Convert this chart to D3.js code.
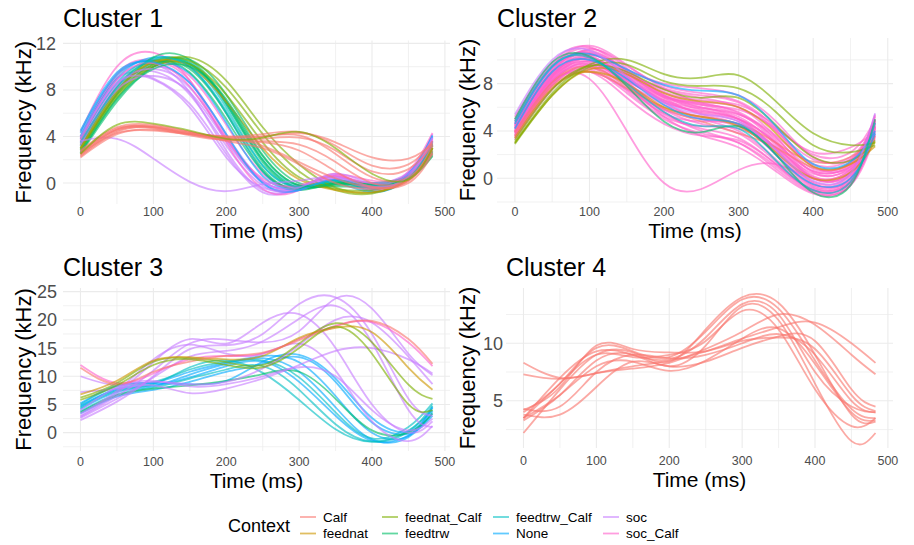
<!DOCTYPE html>
<html>
<head>
<meta charset="utf-8">
<script src="https://cdn.jsdelivr.net/npm/d3@7"></script>
<style>
  body { margin: 0; background: #fff; }
  svg { display: block; font-family: "Liberation Sans", Arial, sans-serif; }
</style>
</head>
<body>
<svg id="chart" width="914" height="545"></svg>
<script>
// Sample times (ms) shared by every contour
const times = [0, 50, 100, 150, 200, 250, 300, 350, 400, 450, 483];

const contexts = ["Calf", "feednat", "feednat_Calf", "feedtrw", "feedtrw_Calf", "None", "soc", "soc_Calf"];
const palette = ["#F8766D", "#CD9600", "#7CAE00", "#00BE67", "#00BFC4", "#00A9FF", "#C77CFF", "#FF61CC"];

// Tick labels per cluster (kHz)
const cluster1Ticks = [0, 4, 8, 12];
const cluster2Ticks = [0, 4, 8];
const cluster3Ticks = [0, 5, 10, 15, 20, 25];
const cluster4Ticks = [5, 10];
const timeTicks = [0, 100, 200, 300, 400, 500];

// Cluster 1 contours: [context, frequency at each time]
const cluster1 = [
  ["soc",          [3.8, 8.8, 10.2, 7.8, 2.8, -0.6, -0.5, 0.3, -0.4, 0.8, 4.2]],
  ["soc",          [3.5, 8.5, 9.6, 7.6, 3.2, -0.2, -0.6, 0.5, -0.2, 0.7, 3.6]],
  ["soc",          [4.0, 9.0, 9.0, 6.8, 2.5, -0.8, -0.4, 0.6, -0.3, 0.9, 4.0]],
  ["soc_Calf",     [4.4, 10.0, 11.2, 8.8, 3.5, -0.5, -0.6, 0.8, -0.5, 1.0, 4.3]],
  ["soc_Calf",     [3.6, 9.2, 10.5, 8.8, 4.0, 0.2, -0.5, 0.3, -0.6, 0.6, 3.5]],
  ["soc",          [3.2, 8.2, 10.0, 8.6, 4.2, 0.2, -0.4, 0.6, -0.2, 0.7, 3.3]],
  ["soc_Calf",     [3.9, 9.4, 10.6, 9.2, 5.0, 0.8, -0.3, 0.7, 0.2, 0.8, 3.8]],
  ["None",         [4.3, 9.3, 10.5, 9.4, 5.2, 0.6, -0.5, 0.0, -0.8, 0.5, 4.0]],
  ["None",         [4.0, 9.0, 10.8, 10.0, 6.0, 1.0, -0.6, 0.2, -0.7, 0.5, 3.6]],
  ["feedtrw_Calf", [3.8, 8.6, 10.7, 10.2, 6.5, 1.5, -0.4, 0.0, -0.3, 0.6, 3.5]],
  ["feedtrw_Calf", [3.2, 8.0, 10.4, 10.4, 6.8, 2.0, -0.2, 0.2, 0.0, 0.7, 3.2]],
  ["feedtrw",      [2.8, 7.6, 10.2, 10.3, 6.8, 1.8, -0.4, 0.0, -0.2, 0.5, 2.5]],
  ["feedtrw",      [2.6, 7.3, 10.0, 10.2, 7.0, 2.3, -0.2, -0.2, -0.1, 0.6, 2.6]],
  ["feedtrw",      [3.0, 7.8, 10.3, 9.8, 6.0, 1.2, -0.6, 0.0, -0.2, 0.4, 2.8]],
  ["feedtrw",      [2.5, 7.0, 10.0, 10.6, 7.6, 2.8, 0.0, -0.3, -0.3, 0.4, 2.4]],
  ["feedtrw",      [2.9, 7.7, 10.8, 10.6, 7.0, 2.0, -0.4, -0.1, 0.0, 0.6, 2.7]],
  ["feedtrw",      [3.4, 8.3, 10.5, 9.5, 5.5, 1.0, -0.5, 0.1, -0.1, 0.6, 3.0]],
  ["feednat_Calf", [3.0, 7.6, 10.2, 10.8, 8.8, 4.8, 1.6, -0.4, -0.8, 0.4, 3.2]],
  ["feednat_Calf", [3.3, 8.0, 10.5, 10.5, 8.2, 4.2, 1.0, -0.6, -0.9, 0.5, 3.4]],
  ["feednat_Calf", [2.8, 7.4, 10.0, 10.2, 7.6, 3.5, 0.5, -0.5, -0.6, 0.5, 3.0]],
  ["feednat",      [3.0, 7.8, 10.4, 10.0, 7.0, 3.0, 0.3, -0.6, -0.8, 0.3, 3.0]],
  ["soc",          [3.4, 8.4, 9.8, 8.2, 3.8, 0.0, -0.6, 0.4, 0.0, 0.9, 3.5]],
  ["soc_Calf",     [3.7, 8.9, 10.3, 8.3, 3.8, 0.4, -0.2, 0.6, -0.1, 0.7, 3.7]],
  ["soc",          [3.3, 8.0, 9.2, 7.8, 3.6, 0.1, -0.3, 0.4, -0.4, 0.5, 3.3]],
  ["None",         [4.5, 9.5, 10.4, 8.6, 4.2, 0.0, -0.6, 0.3, -0.5, 0.8, 4.1]],
  ["feedtrw_Calf", [3.5, 8.2, 10.6, 10.0, 6.2, 1.5, -0.3, 0.2, -0.2, 0.5, 3.3]],
  ["feedtrw",      [2.6, 7.2, 9.8, 10.0, 7.2, 2.4, -0.2, -0.1, -0.1, 0.4, 2.3]],
  ["soc",          [3.9, 8.6, 8.9, 6.5, 2.2, -0.4, -0.4, 0.8, 0.0, 0.8, 3.9]],
  ["soc",          [3.6, 3.8, 2.1, 0.1, -0.7, -0.1, 0.2, 0.5, -0.3, 0.6, 3.9]],
  ["Calf",         [2.3, 4.4, 4.8, 4.3, 4.0, 4.0, 4.3, 3.5, 2.2, 2.1, 3.4]],
  ["Calf",         [2.5, 4.6, 4.9, 4.4, 3.9, 4.0, 4.1, 2.5, 0.5, 0.5, 3.0]],
  ["Calf",         [2.6, 4.7, 4.8, 4.2, 3.7, 3.5, 2.8, 1.0, -0.3, 0.2, 2.8]],
  ["Calf",         [2.2, 4.2, 4.6, 4.2, 3.8, 3.6, 3.3, 1.8, 0.0, 0.3, 2.6]],
  ["Calf",         [2.8, 4.8, 5.0, 4.4, 3.6, 3.0, 1.6, 0.0, -0.5, 0.2, 3.2]],
  ["Calf",         [2.4, 4.5, 4.7, 4.1, 3.7, 3.8, 3.9, 2.8, 1.0, 1.2, 3.3]],
  ["Calf",         [2.5, 4.3, 4.5, 4.2, 3.9, 3.2, 1.8, 0.4, -0.4, 0.0, 2.5]],
  ["Calf",         [2.7, 4.6, 4.8, 4.3, 4.0, 4.2, 4.4, 3.2, 1.5, 1.6, 3.6]],
  ["feednat_Calf", [2.5, 5.0, 5.1, 4.5, 3.8, 3.9, 4.4, 3.0, 0.8, 0.3, 3.0]]
];

// Cluster 2 contours
const cluster2 = [
  ["soc_Calf", [4.5, 9.0, 10.8, 9.0, 7.5, 6.8, 6.0, 3.5, 0.5, 1.0, 5.0]],
  ["soc_Calf", [4.2, 8.6, 10.5, 8.8, 7.2, 6.3, 5.6, 3.2, 0.2, 0.8, 4.8]],
  ["soc_Calf", [4.8, 9.4, 11.0, 9.3, 7.0, 5.8, 5.0, 2.5, -0.3, 0.4, 5.3]],
  ["soc_Calf", [3.8, 8.2, 10.2, 8.5, 6.6, 5.5, 4.8, 2.2, -0.5, 0.2, 4.5]],
  ["soc_Calf", [4.0, 8.5, 9.8, 8.0, 6.2, 5.2, 4.5, 2.0, -0.6, 0.0, 4.2]],
  ["soc_Calf", [3.5, 7.8, 9.5, 8.2, 6.8, 6.0, 5.2, 2.8, 0.0, 0.5, 4.0]],
  ["soc_Calf", [4.6, 9.2, 10.6, 8.6, 6.4, 5.0, 4.0, 1.6, -0.8, -0.2, 4.6]],
  ["soc_Calf", [4.4, 8.8, 10.0, 8.0, 5.8, 4.6, 3.8, 1.4, -1.0, -0.3, 4.4]],
  ["soc_Calf", [3.9, 8.4, 9.6, 7.6, 5.4, 4.2, 3.4, 1.2, -1.0, -0.4, 3.8]],
  ["soc_Calf", [5.0, 9.6, 10.4, 8.2, 5.6, 4.0, 3.0, 0.8, -1.2, -0.5, 4.9]],
  ["soc_Calf", [3.6, 8.0, 9.2, 7.2, 5.0, 3.8, 3.0, 1.0, -1.1, -0.6, 3.6]],
  ["soc_Calf", [4.3, 8.9, 10.2, 8.4, 6.5, 5.6, 5.0, 3.0, 0.6, 1.2, 4.7]],
  ["soc_Calf", [4.1, 8.6, 10.9, 9.5, 7.8, 7.2, 6.5, 4.2, 1.0, 1.4, 4.9]],
  ["soc_Calf", [3.7, 8.1, 9.9, 8.7, 7.0, 6.2, 5.4, 3.4, 0.8, 1.3, 4.1]],
  ["soc_Calf", [4.9, 9.5, 11.2, 9.6, 7.6, 6.4, 5.5, 3.0, 0.0, 0.6, 5.4]],
  ["soc_Calf", [4.0, 8.3, 9.4, 7.4, 5.2, 4.4, 4.2, 2.4, 0.0, 0.5, 3.9]],
  ["soc_Calf", [3.4, 7.6, 9.0, 7.5, 5.8, 5.0, 4.4, 2.6, 0.4, 0.8, 3.5]],
  ["soc_Calf", [4.7, 9.3, 10.3, 8.0, 5.2, 3.6, 2.6, 0.6, -1.3, -0.6, 4.4]],
  ["soc_Calf", [4.2, 8.7, 10.1, 8.6, 6.9, 6.4, 6.0, 4.0, 1.6, 1.8, 4.6]],
  ["soc_Calf", [3.9, 8.2, 9.7, 8.3, 6.6, 5.9, 5.4, 3.6, 1.2, 1.6, 4.3]],
  ["soc_Calf", [4.6, 9.1, 10.7, 9.1, 7.3, 6.6, 6.2, 4.4, 2.0, 2.2, 4.9]],
  ["soc_Calf", [3.3, 7.5, 9.3, 8.0, 6.4, 5.7, 5.0, 3.0, 0.6, 1.0, 3.3]],
  ["soc_Calf", [4.4, 8.8, 10.0, 7.8, 5.5, 4.8, 4.6, 2.6, 0.1, 0.3, 4.2]],
  ["soc_Calf", [5.2, 9.8, 11.1, 9.0, 6.8, 5.4, 4.5, 2.0, -0.7, 0.0, 5.2]],
  ["soc_Calf", [3.8, 8.0, 9.0, 6.8, 4.6, 3.6, 3.2, 1.2, -0.9, -0.3, 3.7]],
  ["soc_Calf", [4.3, 8.6, 9.9, 8.8, 7.6, 7.0, 6.4, 4.0, 1.0, 1.0, 4.4]],
  ["soc_Calf", [4.0, 8.4, 10.4, 9.2, 8.0, 7.6, 7.0, 4.8, 1.8, 1.6, 4.3]],
  ["soc_Calf", [3.6, 7.9, 9.6, 8.4, 6.9, 6.2, 5.8, 4.2, 2.2, 2.6, 3.9]],
  ["soc_Calf", [4.5, 9.0, 10.6, 8.9, 7.0, 6.0, 5.0, 2.4, -0.4, 0.0, 4.8]],
  ["soc_Calf", [4.2, 8.2, 8.4, 4.0, -0.4, -0.9, 0.7, 1.2, 0.0, 0.7, 4.3]],
  ["Calf",     [3.6, 7.8, 9.0, 7.6, 6.0, 5.2, 4.6, 3.0, 1.4, 1.8, 3.4]],
  ["Calf",     [3.9, 8.1, 9.4, 7.8, 5.9, 4.8, 3.8, 2.6, 0.9, 1.2, 3.6]],
  ["feednat",  [3.0, 7.0, 9.2, 8.8, 7.2, 6.5, 6.0, 3.8, 1.0, 1.2, 2.7]],
  ["feednat",  [3.4, 7.6, 9.0, 8.0, 6.0, 5.2, 4.4, 2.2, 0.0, 0.5, 3.1]],
  ["feednat_Calf", [3.0, 7.2, 9.6, 10.0, 8.8, 8.5, 8.7, 6.5, 3.8, 2.8, 3.0]],
  ["feednat_Calf", [2.9, 7.0, 9.4, 9.6, 8.2, 7.8, 7.6, 5.6, 2.8, 2.2, 2.8]],
  ["feednat_Calf", [3.2, 7.5, 9.5, 9.0, 7.5, 6.8, 6.8, 4.5, 1.8, 1.5, 3.2]],
  ["None",     [4.6, 9.4, 10.5, 9.2, 7.9, 7.4, 7.0, 4.4, 1.2, 1.4, 4.0]],
  ["None",     [4.2, 9.0, 10.0, 8.4, 6.2, 5.0, 4.6, 2.0, -0.5, 0.0, 3.8]],
  ["feedtrw",  [5.0, 9.8, 10.3, 7.8, 4.8, 3.9, 4.4, 2.0, -1.2, -0.6, 5.0]],
  ["feedtrw_Calf", [4.8, 9.5, 10.2, 8.0, 5.6, 4.4, 4.2, 1.5, -1.0, -0.3, 4.7]],
  ["soc",      [5.4, 10.0, 10.8, 8.6, 6.4, 5.4, 4.8, 2.4, -0.2, 0.4, 5.5]]
];

// Cluster 3 contours
const cluster3 = [
  ["None",         [4.8, 7.6, 8.4, 9.8, 11.8, 12.6, 9.0, 3.0, -1.4, -0.5, 3.4]],
  ["None",         [4.2, 7.2, 8.2, 10.3, 12.2, 13.2, 10.8, 4.5, -1.2, -0.8, 3.8]],
  ["None",         [4.6, 7.8, 8.8, 10.8, 12.4, 13.6, 12.5, 6.5, 0.0, -0.6, 4.6]],
  ["feedtrw_Calf", [3.8, 6.8, 8.0, 9.6, 11.2, 11.8, 7.6, 1.5, -1.6, 0.2, 4.8]],
  ["feedtrw_Calf", [5.0, 8.2, 9.0, 11.2, 12.6, 12.8, 9.8, 3.6, -1.0, 1.0, 5.2]],
  ["None",         [3.4, 6.4, 7.6, 9.0, 10.8, 12.2, 13.4, 9.0, 1.8, -0.2, 3.0]],
  ["feedtrw_Calf", [4.4, 7.4, 8.6, 11.6, 12.8, 10.6, 5.8, 0.6, -1.6, 0.4, 4.0]],
  ["None",         [5.2, 8.4, 8.8, 8.6, 9.2, 12.6, 13.8, 9.6, 2.6, 0.2, 4.4]],
  ["feedtrw",      [3.6, 6.6, 7.8, 8.4, 9.2, 10.4, 10.8, 6.0, 0.4, 0.0, 3.4]],
  ["soc",          [2.2, 5.5, 10.0, 14.8, 15.5, 17.5, 22.8, 24.0, 17.5, 6.0, 3.0]],
  ["soc",          [2.8, 6.5, 11.0, 15.8, 16.5, 16.0, 18.0, 23.8, 22.0, 14.0, 10.2]],
  ["soc",          [3.0, 7.0, 12.5, 16.6, 15.8, 19.5, 21.0, 15.0, 5.0, 0.0, 2.0]],
  ["soc",          [7.2, 7.8, 8.4, 7.0, 7.8, 9.6, 12.0, 14.5, 15.0, 13.0, 10.5]],
  ["soc",          [2.6, 6.0, 9.8, 13.5, 14.5, 16.2, 20.2, 22.5, 16.0, 4.0, 1.0]],
  ["soc",          [3.4, 7.4, 13.0, 15.6, 14.0, 14.0, 15.8, 11.0, 2.0, -1.5, 1.2]],
  ["soc",          [10.0, 8.4, 9.0, 8.6, 9.0, 11.4, 15.5, 20.0, 19.5, 13.5, 8.6]],
  ["soc",          [4.0, 8.0, 9.2, 8.2, 8.6, 10.0, 11.6, 10.0, 4.0, 0.4, 2.5]],
  ["soc_Calf",     [12.0, 8.8, 10.5, 13.0, 13.6, 14.0, 16.6, 19.0, 19.6, 16.0, 11.8]],
  ["feednat_Calf", [6.2, 8.8, 12.6, 13.2, 12.5, 12.0, 15.8, 19.4, 16.0, 8.5, 6.0]],
  ["feednat",      [6.8, 9.2, 12.8, 13.4, 13.0, 13.6, 16.8, 18.6, 17.8, 11.5, 7.6]],
  ["Calf",         [11.5, 8.6, 10.8, 12.6, 13.6, 14.2, 16.4, 18.8, 19.8, 16.6, 12.2]],
  ["feednat_Calf", [5.8, 8.4, 12.0, 13.0, 12.0, 11.6, 15.0, 18.8, 14.0, 5.0, 4.0]]
];

// Cluster 4 contours (all Calf)
const cluster4 = [
  ["Calf", [3.5, 7.0, 9.3, 9.0, 8.6, 10.5, 13.4, 12.5, 7.5, 4.5, 4.0]],
  ["Calf", [4.0, 6.5, 9.6, 9.3, 8.8, 11.0, 13.8, 13.0, 8.5, 4.3, 3.5]],
  ["Calf", [2.2, 6.0, 9.0, 9.2, 8.4, 11.2, 14.0, 13.5, 9.0, 3.8, 3.2]],
  ["Calf", [3.3, 5.5, 8.5, 9.0, 8.0, 9.8, 13.2, 12.0, 6.5, 1.5, 2.2]],
  ["Calf", [4.3, 4.5, 7.5, 9.0, 8.7, 9.0, 10.0, 10.8, 9.0, 5.0, 4.0]],
  ["Calf", [3.8, 3.8, 6.2, 8.4, 8.0, 8.4, 9.6, 10.6, 10.2, 6.0, 4.5]],
  ["Calf", [3.5, 5.5, 8.0, 8.4, 7.6, 8.5, 10.4, 11.3, 8.2, 4.0, 3.3]],
  ["Calf", [8.3, 7.0, 7.4, 8.0, 8.5, 9.3, 10.4, 11.4, 11.8, 10.0, 8.3]],
  ["Calf", [7.3, 6.9, 7.4, 7.8, 8.3, 9.5, 11.0, 12.5, 11.6, 9.0, 7.3]],
  ["Calf", [4.2, 6.2, 9.8, 9.5, 9.2, 9.3, 10.2, 10.5, 9.5, 5.5, 4.1]],
  ["Calf", [3.5, 6.5, 9.0, 8.8, 9.0, 10.2, 12.8, 11.2, 6.0, 2.8, 3.5]]
];

const color = d3.scaleOrdinal(contexts, palette);
const svg = d3.select('#chart');

// Panel layout (pixel boxes measured from the target)
const panels = [
  { title: 'Cluster 1', data: cluster1, ticks: cluster1Ticks, box: [63, 40.5, 450, 204], yDomain: [-1.8, 12.25], titleY: 27, tickRight: 56, yTitleX: 31, xTickY: 216, xTitleY: 238 },
  { title: 'Cluster 2', data: cluster2, ticks: cluster2Ticks, box: [497, 38, 893, 202], yDomain: [-2.0, 11.85], titleY: 27, tickRight: 493, yTitleX: 475, xTickY: 216, xTitleY: 238 },
  { title: 'Cluster 3', data: cluster3, ticks: cluster3Ticks, box: [63, 288, 450, 451], yDomain: [-3.25, 25.65], titleY: 276, tickRight: 57, yTitleX: 31, xTickY: 466, xTitleY: 488 },
  { title: 'Cluster 4', data: cluster4, ticks: cluster4Ticks, box: [506, 288, 893, 448], yDomain: [0.9, 14.8], titleY: 276, tickRight: 503, yTitleX: 475, xTickY: 465, xTitleY: 487 }
];

panels.forEach(p => {
  const [x0, y0, x1, y1] = p.box;
  const x = d3.scaleLinear().domain([-24, 507]).range([x0, x1]);
  const y = d3.scaleLinear().domain(p.yDomain).range([y1, y0]);
  const g = svg.append('g');

  // Minor gridlines halfway between the major ones
  const step = p.ticks.length > 1 ? p.ticks[1] - p.ticks[0] : 5;
  const yMinor = d3.range(p.ticks[0] - step / 2, p.ticks[p.ticks.length - 1] + step, step)
    .filter(v => v >= p.yDomain[0] && v <= p.yDomain[1]);
  const xMinor = d3.range(50, 500, 100);

  g.selectAll('.ymin').data(yMinor).enter().append('line')
    .attr('x1', x0).attr('x2', x1).attr('y1', d => y(d)).attr('y2', d => y(d))
    .attr('stroke', '#ebebeb').attr('stroke-width', 0.7);
  g.selectAll('.xmin').data(xMinor).enter().append('line')
    .attr('x1', d => x(d)).attr('x2', d => x(d)).attr('y1', y0).attr('y2', y1)
    .attr('stroke', '#ebebeb').attr('stroke-width', 0.7);
  g.selectAll('.ymaj').data(p.ticks).enter().append('line')
    .attr('x1', x0).attr('x2', x1).attr('y1', d => y(d)).attr('y2', d => y(d))
    .attr('stroke', '#ebebeb').attr('stroke-width', 1.1);
  g.selectAll('.xmaj').data(timeTicks).enter().append('line')
    .attr('x1', d => x(d)).attr('x2', d => x(d)).attr('y1', y0).attr('y2', y1)
    .attr('stroke', '#ebebeb').attr('stroke-width', 1.1);

  // Contours
  const line = d3.line()
    .x((d, i) => x(times[i]))
    .y(d => y(d))
    .curve(d3.curveNatural);

  g.selectAll('.contour').data(p.data).enter().append('path')
    .attr('d', d => line(d[1]))
    .attr('fill', 'none')
    .attr('stroke', d => color(d[0]))
    .attr('stroke-width', 1.8)
    .attr('stroke-opacity', 0.62);

  // Tick labels
  g.selectAll('.ytick').data(p.ticks).enter().append('text')
    .attr('x', p.tickRight).attr('y', d => y(d)).attr('dy', '0.36em')
    .attr('text-anchor', 'end').attr('fill', '#4d4d4d').style('font-size', '18px')
    .text(d => d);
  g.selectAll('.xtick').data(timeTicks).enter().append('text')
    .attr('x', d => x(d)).attr('y', p.xTickY)
    .attr('text-anchor', 'middle').attr('fill', '#4d4d4d').style('font-size', '12.5px')
    .text(d => d);

  // Titles
  g.append('text').attr('x', x0).attr('y', p.titleY)
    .style('font-size', '25px').attr('fill', '#000').text(p.title);
  g.append('text').attr('x', (x0 + x1) / 2).attr('y', p.xTitleY)
    .attr('text-anchor', 'middle').style('font-size', '21px').attr('fill', '#000').text('Time (ms)');
  g.append('text')
    .attr('transform', `translate(${p.yTitleX},${(y0 + y1) / 2}) rotate(-90)`)
    .attr('text-anchor', 'middle').style('font-size', '22px').attr('fill', '#000').text('Frequency (kHz)');
});

// Legend
const legend = svg.append('g');
legend.append('text').attr('x', 228).attr('y', 532).style('font-size', '18px').text('Context');
const colX = [300, 382, 493, 603];
const rowY = [517, 533.5];
contexts.forEach((c, i) => {
  const cx = colX[Math.floor(i / 2)];
  const cy = rowY[i % 2];
  legend.append('line')
    .attr('x1', cx).attr('x2', cx + 16).attr('y1', cy).attr('y2', cy)
    .attr('stroke', color(c)).attr('stroke-width', 1.8).attr('stroke-opacity', 0.62);
  legend.append('text').attr('x', cx + 23).attr('y', cy).attr('dy', '0.36em')
    .style('font-size', '13.5px').attr('fill', '#000').text(c);
});
</script>
</body>
</html>
